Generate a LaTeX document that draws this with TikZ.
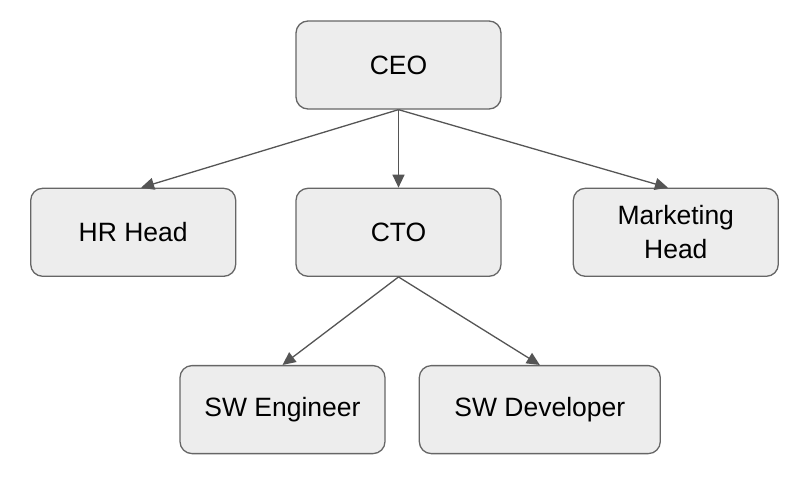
\documentclass[tikz,border=0pt]{standalone}
\usepackage{fontspec}
\setmainfont{Liberation Sans}
\usepackage{tikz}
\usetikzlibrary{arrows.meta,shapes,positioning}
\usepackage{xcolor}
\definecolor{orgfill}{RGB}{237,237,237}
\definecolor{orgline}{RGB}{102,102,102}
\definecolor{orgarrow}{RGB}{85,85,85}
\tikzstyle{role} = [rectangle, rounded corners=12pt, minimum width=205pt, minimum height=88pt, inner sep=0pt, align=center, draw=orgline, fill=orgfill, line width=1.3pt, font=\fontsize{26.5}{34}\selectfont]
\tikzstyle{arrow} = [line width=1.3pt,->,>={Triangle[length=13pt,width=12pt]},color=orgarrow]

\begin{document}
\begin{tikzpicture}[x=1pt, y=1pt]
\useasboundingbox (0,0) rectangle (800,-477);
% Layers
\node (ceo) [role] at (398.5,-65) {CEO};
\node (cto) [role, below=78pt of ceo] {CTO};
\node (hr) [role, left=59pt of cto] {HR Head};
\node (mkt) [role, right=71pt of cto] {Marketing\\Head};
\node (swe) [role, below=88pt of cto, xshift=-116pt] {SW Engineer};
\node (swd) [role, right=33pt of swe, minimum width=241pt] {SW Developer};

% Arrows
\draw[arrow] (ceo.south) -- (hr.80);
\draw[arrow] (ceo.south) -- (cto.north);
\draw[arrow] (ceo.south) -- (mkt.100);
\draw[arrow] (cto.south) -- (swe.north);
\draw[arrow] (cto.south) -- (swd.north);
\end{tikzpicture}
\end{document}
